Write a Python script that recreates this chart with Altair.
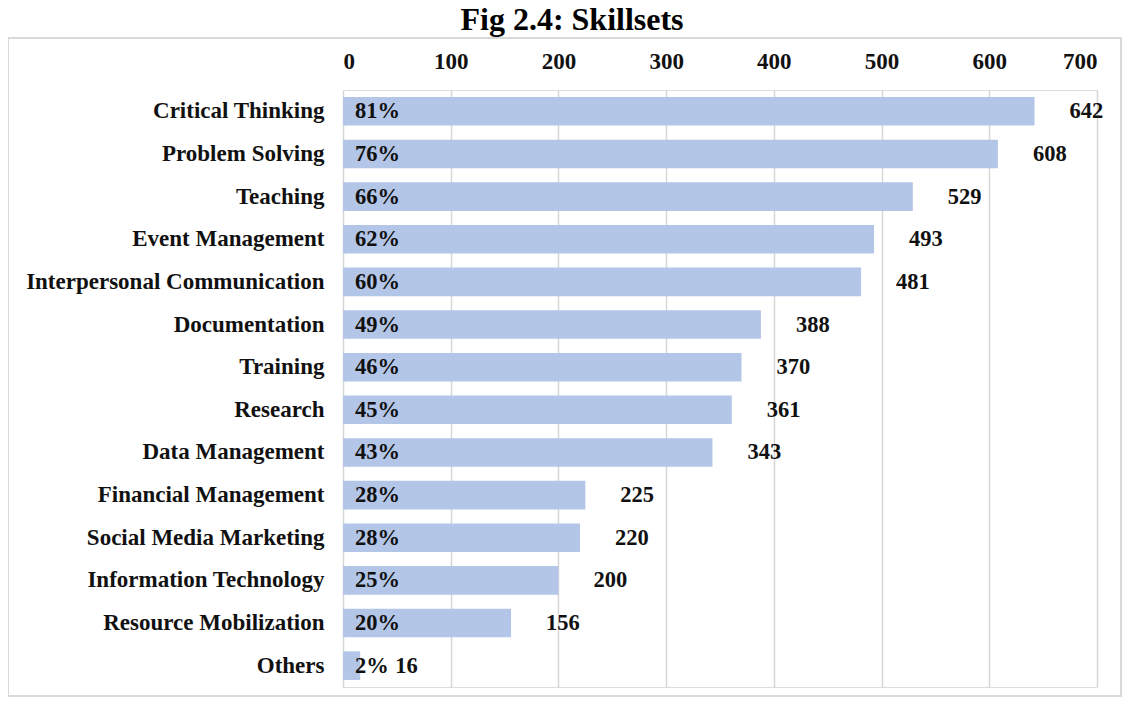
import altair as alt
import pandas as pd

skills = [
    "Critical Thinking", "Problem Solving", "Teaching", "Event Management",
    "Interpersonal Communication", "Documentation", "Training", "Research",
    "Data Management", "Financial Management", "Social Media Marketing",
    "Information Technology", "Resource Mobilization", "Others",
]
counts = [642, 608, 529, 493, 481, 388, 370, 361, 343, 225, 220, 200, 156, 16]
percents = ["81%", "76%", "66%", "62%", "60%", "49%", "46%", "45%", "43%",
            "28%", "28%", "25%", "20%", "2%"]
x_ticks = [0, 100, 200, 300, 400, 500, 600, 700]

df = pd.DataFrame({"skill": skills, "count": counts, "pct": percents})

FONT = "Liberation Serif"
W, H = 754, 597

y_enc = alt.Y(
    "skill:N", sort=skills, title=None,
    scale=alt.Scale(paddingInner=0.33, paddingOuter=0.165),
    axis=alt.Axis(domain=False, ticks=False, labelFont=FONT, labelFontSize=23,
                  labelFontWeight="bold", labelColor="#111111", labelPadding=19,
                  labelLimit=400),
)
x_scale = alt.Scale(domain=[0, 700], nice=False)

bars = alt.Chart(df).mark_bar(color="#b4c6e7").encode(
    x=alt.X("count:Q", scale=x_scale, title=None,
            axis=alt.Axis(orient="top", values=x_ticks, domain=False, ticks=False,
                          labelFont=FONT, labelFontSize=23, labelFontWeight="bold",
                          labelColor="#111111", labelPadding=17,
                          grid=True, gridColor="#d6d6d6", gridWidth=1.5)),
    y=y_enc,
)

pct_text = alt.Chart(df).mark_text(
    align="left", baseline="middle", dx=12, font=FONT, fontSize=22.5,
    fontWeight="bold", color="#111111",
).encode(x=alt.datum(0, scale=x_scale), y=alt.Y("skill:N", sort=skills), text="pct:N")

val_text = alt.Chart(df).mark_text(
    align="left", baseline="middle", dx=35, font=FONT, fontSize=22.5,
    fontWeight="bold", color="#111111",
).encode(x=alt.X("count:Q", scale=x_scale), y=alt.Y("skill:N", sort=skills),
         text="count:Q")

frame = alt.Chart(pd.DataFrame({"k": [0]})).mark_rect(
    fill="transparent", stroke="#d9d9d9", strokeWidth=2,
).encode(x=alt.value(-335), x2=alt.value(778), y=alt.value(-52), y2=alt.value(606))

chart = alt.layer(frame, bars, pct_text, val_text).properties(
    width=W, height=H,
    autosize=alt.AutoSizeParams(type="none"),
    padding={"left": 335, "top": 82, "right": 25, "bottom": 10},
    title=alt.TitleParams("Fig 2.4: Skillsets", font=FONT, fontSize=32,
                          fontWeight="bold", color="#000000", anchor="middle",
                          frame="group", dx=-148, offset=4, dy=4),
).configure_view(stroke=None).configure(background="white")

chart.save("out.html", embed_options={"renderer": "svg", "actions": False})
